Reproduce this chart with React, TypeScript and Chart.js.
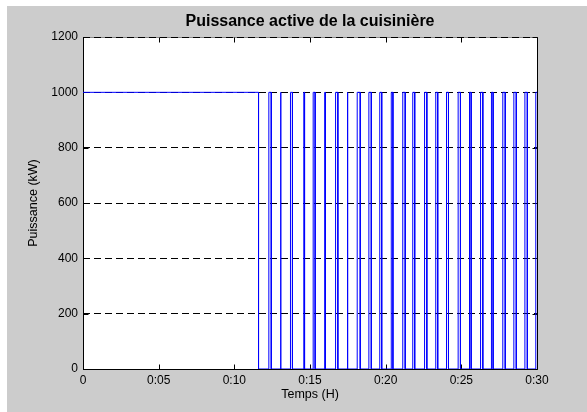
import React, { useEffect, useRef } from 'react';
import { Chart, registerables } from 'chart.js';

Chart.register(...registerables);

// ---- Data ----
const TITLE = 'Puissance active de la cuisinière';
const X_LABEL = 'Temps (H)';
const Y_LABEL = 'Puissance (kW)';

const xTickValues = [0, 5, 10, 15, 20, 25, 30];
const xTickLabels = ['0', '0:05', '0:10', '0:15', '0:20', '0:25', '0:30'];
const yTickValues = [0, 200, 400, 600, 800, 1000, 1200];

const POWER_ON = 1000;
const POWER_OFF = 0;
const startTime = 0;
const initialOnEnd = 11.6;
const pulseStarts = [12.28, 13.05, 13.71, 14.59, 15.21, 15.98, 16.69, 17.46, 18.12, 18.89, 19.61, 20.37, 21.13, 21.79, 22.57, 23.31, 24.02, 24.79, 25.54, 26.27, 26.99, 27.74, 28.47, 29.2];
const pulseEnds = [12.44, 13.08, 13.84, 14.64, 15.34, 16.01, 16.84, 17.5, 18.32, 19.05, 19.74, 20.48, 21.29, 21.92, 22.72, 23.44, 24.15, 24.94, 25.65, 26.42, 27.1, 27.9, 28.63, 29.36];
const finalRise = 29.92;
const endTime = 30;

const FONT = "'Liberation Sans', Arial, Helvetica, sans-serif";

function buildPoints() {
  const pts: { x: number; y: number }[] = [
    { x: startTime, y: POWER_ON },
    { x: initialOnEnd, y: POWER_ON },
    { x: initialOnEnd, y: POWER_OFF },
  ];
  pulseStarts.forEach((s, i) => {
    const e = pulseEnds[i];
    pts.push({ x: s, y: POWER_OFF }, { x: s, y: POWER_ON }, { x: e, y: POWER_ON }, { x: e, y: POWER_OFF });
  });
  pts.push({ x: finalRise, y: POWER_OFF }, { x: finalRise, y: POWER_ON }, { x: endTime, y: POWER_ON });
  return pts;
}

const framePlugin = {
  id: 'matlabFrame',
  beforeDraw(chart: any) {
    const { ctx, width, height } = chart;
    const { left, top, right, bottom } = chart.chartArea;
    ctx.save();
    ctx.fillStyle = '#ffffff';
    ctx.fillRect(0, 0, width, height);
    ctx.fillStyle = '#cccccc';
    ctx.fillRect(7, 6, width - 7, height - 6);
    ctx.fillStyle = '#ffffff';
    ctx.fillRect(left, top, right - left, bottom - top);
    // top border (light, under the dashed grid line)
    ctx.strokeStyle = '#8a8a8a';
    ctx.lineWidth = 1;
    ctx.beginPath();
    ctx.moveTo(left, top + 0.5);
    ctx.lineTo(right + 1, top + 0.5);
    ctx.stroke();
    ctx.restore();
  },
  beforeDatasetsDraw(chart: any) {
    const { ctx } = chart;
    const { left, top, right, bottom } = chart.chartArea;
    const xs = chart.scales.x;
    const ys = chart.scales.y;
    const L = Math.round(left) + 0.5;
    const R = Math.round(right) + 0.5;
    const T = Math.round(top) + 0.5;
    const B = Math.round(bottom) + 0.5;
    ctx.save();
    ctx.strokeStyle = '#000000';
    ctx.lineWidth = 1;
    ctx.beginPath();
    ctx.moveTo(L, T);
    ctx.lineTo(L, B);
    ctx.lineTo(R, B);
    ctx.lineTo(R, T);
    ctx.stroke();
    const tl = 5;
    ctx.beginPath();
    xTickValues.forEach((v) => {
      const px = Math.round(xs.getPixelForValue(v)) + 0.5;
      ctx.moveTo(px, B);
      ctx.lineTo(px, B - tl);
      ctx.moveTo(px, T);
      ctx.lineTo(px, T + tl);
    });
    yTickValues.forEach((v) => {
      const py = Math.round(ys.getPixelForValue(v)) + 0.5;
      ctx.moveTo(L, py);
      ctx.lineTo(L + tl, py);
      ctx.moveTo(R, py);
      ctx.lineTo(R - tl, py);
    });
    ctx.stroke();
    ctx.restore();
  },
};

export default function App() {
  const canvasRef = useRef<HTMLCanvasElement | null>(null);

  useEffect(() => {
    const canvas = canvasRef.current;
    if (!canvas) return;
    const chart = new Chart(canvas, {
      type: 'line',
      data: {
        datasets: [
          {
            label: 'Puissance',
            data: buildPoints(),
            borderColor: '#0000ff',
            borderWidth: 1,
            pointRadius: 0,
            tension: 0,
            fill: false,
          },
        ],
      },
      options: {
        animation: false,
        responsive: false,
        devicePixelRatio: 1,
        layout: { padding: { left: 0, right: 50, top: 0, bottom: 0 } },
        plugins: {
          legend: { display: false },
          tooltip: { enabled: false },
          title: {
            display: true,
            text: TITLE,
            fullSize: false,
            color: '#000000',
            font: { family: FONT, size: 16, weight: 'bold', lineHeight: 1.2 },
            padding: { top: 12, bottom: 5.8 },
          },
        },
        scales: {
          x: {
            type: 'linear',
            min: 0,
            max: 30,
            afterFit: (s: any) => {
              s.height = 43;
            },
            afterBuildTicks: (s: any) => {
              s.ticks = xTickValues.map((v) => ({ value: v }));
            },
            ticks: {
              autoSkip: false,
              maxRotation: 0,
              padding: 4,
              color: '#000000',
              font: { family: FONT, size: 12 },
              callback: (v: any) => {
                const i = xTickValues.indexOf(Number(v));
                return i >= 0 ? xTickLabels[i] : '';
              },
            },
            grid: { display: false, drawTicks: false },
            border: { display: false },
            title: {
              display: true,
              text: X_LABEL,
              color: '#000000',
              font: { family: FONT, size: 12.5 },
              padding: { top: 0, bottom: 10 },
            },
          },
          y: {
            type: 'linear',
            min: 0,
            max: 1200,
            afterFit: (s: any) => {
              s.width = 83;
            },
            afterBuildTicks: (s: any) => {
              s.ticks = yTickValues.map((v) => ({ value: v }));
            },
            ticks: {
              autoSkip: false,
              padding: 5,
              color: '#000000',
              font: { family: FONT, size: 12 },
              callback: (v: any) => String(v),
            },
            grid: { display: true, drawTicks: false, color: '#000000', lineWidth: 1 },
            border: { display: false, dash: [7, 4] },
            title: {
              display: true,
              text: Y_LABEL,
              color: '#000000',
              font: { family: FONT, size: 12.5 },
              padding: { top: 26.5, bottom: 0 },
            },
          },
        },
      },
      plugins: [framePlugin],
    });
    return () => chart.destroy();
  }, []);

  return (
    <div style={{ position: 'absolute', left: 0, top: 0, width: 587, height: 412 }}>
      <canvas ref={canvasRef} width={587} height={412} style={{ display: 'block' }} />
    </div>
  );
}
